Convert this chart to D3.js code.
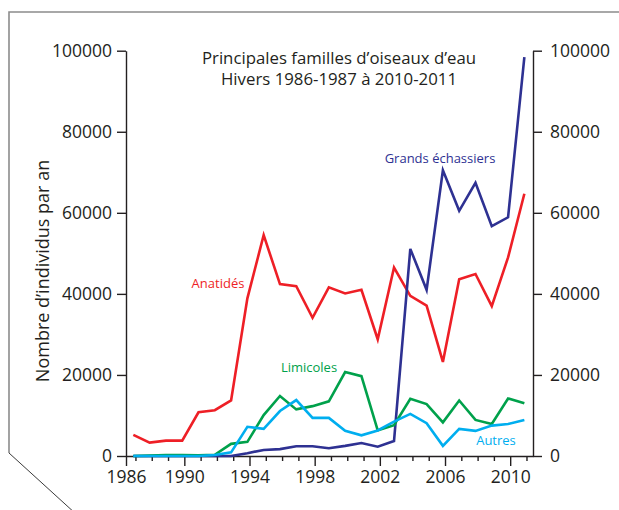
<!DOCTYPE html>
<html>
<head>
<meta charset="utf-8">
<script src="https://cdn.jsdelivr.net/npm/d3@7"></script>
<style>
  html, body { margin: 0; padding: 0; background: #fff; }
  svg { display: block; font-family: "Open Sans", "Noto Sans", sans-serif; }
</style>
</head>
<body>
<svg id="chart" width="619" height="510"></svg>
<script>
// Winters 1986-1987 ... 2010-2011 (start year)
const winters = [1986,1987,1988,1989,1990,1991,1992,1993,1994,1995,1996,1997,1998,1999,2000,2001,2002,2003,2004,2005,2006,2007,2008,2009,2010];
const anatides = [5200,3300,3800,3800,10800,11300,13700,38900,54500,42400,41900,34100,41600,40100,41000,28800,46500,39500,37100,23200,43600,44900,37000,49000,64700];
const grandsEchassiers = [0,0,0,0,0,0,0,700,1500,1700,2400,2400,1900,2500,3200,2300,3700,51100,41000,70500,60500,67400,56700,58900,98400];
const limicoles = [0,100,250,250,150,300,3000,3500,10100,14800,11500,12300,13500,20700,19700,6300,7600,14100,12800,8300,13700,8900,7900,14200,13000];
const autres = [0,0,0,0,0,250,900,7200,6700,11100,13800,9400,9400,6200,5100,6300,8500,10400,8100,2500,6700,6200,7500,7900,8900];

const xTickLabels = ["1986","1990","1994","1998","2002","2006","2010"];
const yTicks = [0,20000,40000,60000,80000,100000];
const titleLines = ["Principales familles d\u2019oiseaux d\u2019eau", "Hivers 1986-1987 \u00e0 2010-2011"];
const yTitle = "Nombre d\u2019individus par an";

const series = [
  {name: "Anatid\u00e9s", values: anatides, color: "#ee1f26", lx: 218, ly: 288},
  {name: "Grands \u00e9chassiers", values: grandsEchassiers, color: "#2e3192", lx: 440, ly: 163},
  {name: "Limicoles", values: limicoles, color: "#00a14b", lx: 309, ly: 372},
  {name: "Autres", values: autres, color: "#00aeef", lx: 496, ly: 445}
];

const svg = d3.select("#chart");

// frame
svg.append("path")
  .attr("d", "M625,12 H9 V453")
  .attr("fill", "none").attr("stroke", "#8c8c8c").attr("stroke-width", 1.6);
svg.append("path")
  .attr("d", "M9,453 L76,514")
  .attr("fill", "none").attr("stroke", "#3a3a3a").attr("stroke-width", 1);

const x = d3.scaleLinear().domain([1986.42, 2011.4]).range([126, 533]).clamp(true);
const y = d3.scaleLinear().domain([0, 100000]).range([456, 50.7]);
const axisColor = "#231f20";

// left axis
const gl = svg.append("g").attr("transform", `translate(${x.range()[0]},0)`)
  .call(d3.axisLeft(y).tickValues(yTicks).tickSize(9).tickSizeOuter(0).tickPadding(5).tickFormat(d3.format("d")));
// right axis
const gr = svg.append("g").attr("transform", `translate(${x.range()[1]},0)`)
  .call(d3.axisRight(y).tickValues(yTicks).tickSize(9).tickSizeOuter(0).tickPadding(8).tickFormat(d3.format("d")));
// bottom minor ticks
const minorYears = d3.range(1987, 2012).filter(v => (v - 1986) % 4 !== 0);
const gm = svg.append("g").attr("transform", `translate(0,${y(0)})`)
  .call(d3.axisBottom(x).tickValues(minorYears).tickSize(5).tickSizeOuter(0).tickFormat(""));
gm.select(".domain").remove();
// bottom major ticks
const gb = svg.append("g").attr("transform", `translate(0,${y(0)})`)
  .call(d3.axisBottom(x).tickValues(xTickLabels.map(Number)).tickSize(10).tickSizeOuter(0).tickPadding(5).tickFormat(d => String(d)));

[gl, gr, gm, gb].forEach(g => {
  g.selectAll("path.domain").attr("stroke", axisColor).attr("stroke-width", 1.4);
  g.selectAll(".tick line").attr("stroke", axisColor).attr("stroke-width", 1.4);
  g.selectAll(".tick text").attr("fill", "#231f20").style("font-size", "17.5px").style("font-family", "\"Open Sans\", sans-serif");
});

// lines
const line = d3.line()
  .x((d, i) => x(winters[i] + 0.87))
  .y(d => y(d));

series.forEach(s => {
  svg.append("path")
    .datum(s.values)
    .attr("d", line)
    .attr("fill", "none")
    .attr("stroke", s.color)
    .attr("stroke-width", 2.6)
    .attr("stroke-linejoin", "miter");
  svg.append("text")
    .attr("x", s.lx).attr("y", s.ly)
    .attr("text-anchor", "middle")
    .attr("fill", s.color)
    .style("font-size", "13px")
    .text(s.name);
});

// title
svg.append("text")
  .attr("x", 339).attr("text-anchor", "middle")
  .attr("fill", "#231f20").style("font-size", "16.8px")
  .selectAll("tspan").data(titleLines).join("tspan")
  .attr("x", 339).attr("y", (d, i) => 64 + i * 21).text(d => d);

// y title
svg.append("text")
  .attr("transform", "translate(49,271) rotate(-90)")
  .attr("text-anchor", "middle")
  .attr("fill", "#231f20").style("font-size", "18px")
  .text(yTitle);
</script>
</body>
</html>
